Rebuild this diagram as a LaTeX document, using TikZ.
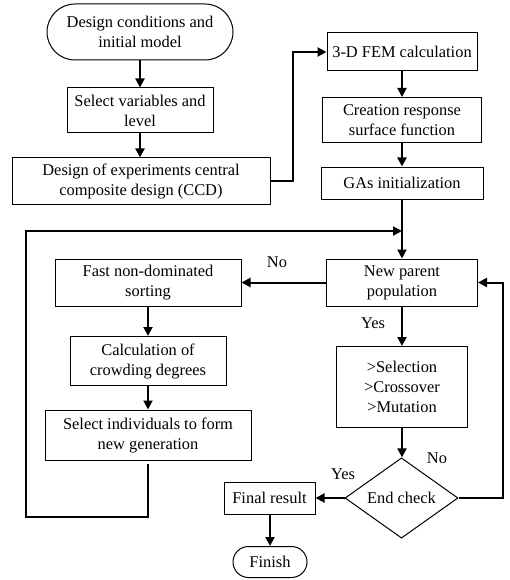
\documentclass[tikz,border=0pt]{standalone}
\usepackage{fontspec}
\setmainfont{Liberation Serif}
\usetikzlibrary{arrows.meta,shapes.geometric}
\begin{document}
\begin{tikzpicture}[x=1pt,y=-1pt,
  every node/.style={font=\fontsize{16.4}{20}\selectfont},
  box/.style={draw, line width=1pt, align=center, inner sep=0pt, minimum width=#1},
  term/.style={draw, line width=1pt, align=center, inner sep=0pt, rounded corners=#1},
  lbl/.style={inner sep=0pt, anchor=center},
  conn/.style={line width=2pt, -{Triangle[length=9pt,width=9pt]}},
  plain/.style={line width=2pt}]
\useasboundingbox (0,0) rectangle (509,580);
% nodes
\node[term=28pt, minimum width=186pt, minimum height=56pt] (start) at (140,32) {Design conditions and\\initial model};
\node[box=146pt, minimum height=45pt] (sel) at (140,110.5) {Select variables and\\level};
\node[box=258pt, minimum height=46pt] (ccd) at (141,181) {Design of experiments central\\composite design (CCD)};
\node[box=150pt, minimum height=38pt] (fem) at (402,52) {3-D FEM calculation};
\node[box=159pt, minimum height=45pt] (crs) at (402,120) {Creation response\\surface function};
\node[box=162pt, minimum height=32pt] (gas) at (402,183) {GAs initialization};
\node[box=151pt, minimum height=47pt] (npp) at (402,282.5) {New parent\\population};
\node[box=186pt, minimum height=47pt] (fast) at (148,282.5) {Fast non-dominated\\sorting};
\node[box=156pt, minimum height=49pt] (calc) at (148,361) {Calculation of\\crowding degrees};
\node[box=206pt, minimum height=50pt] (seli) at (148,435) {Select individuals to form\\new generation};
\node[box=131pt, minimum height=81pt] (ops) at (402,387) {>Selection\\>Crossover\\>Mutation};
\node[draw, line width=1pt, diamond, inner sep=0pt, minimum width=113pt, minimum height=69pt] (endc) at (401.5,498) {End check};
\node[box=91pt, minimum height=32pt] (final) at (269.5,498) {Final result};
\node[term=15.5pt, minimum width=74pt, minimum height=31pt] (finish) at (270,562) {Finish};
% labels
\node[lbl] (no1) at (277,262) {No};
\node[lbl] (yes1) at (373,323) {Yes};
\node[lbl] (no2) at (437,458) {No};
\node[lbl] (yes2) at (343,474) {Yes};
% coordinates
\coordinate (j) at (402,231);
\coordinate (c1) at (293,181);
\coordinate (c2) at (293,52);
\coordinate (l0) at (148,464);
\coordinate (l1) at (148,517);
\coordinate (l2) at (26,517);
\coordinate (l3) at (26,231);
\coordinate (r1) at (503,498);
\coordinate (r2) at (503,282.5);
% connectors
\draw[conn] (start.south -| sel.north) -- (sel.north);
\draw[conn] (sel.south) -- (sel.south |- ccd.north);
\draw[conn] (ccd.east) -- (c1) -- (c2) -- (fem.west);
\draw[conn] (fem) -- (crs);
\draw[conn] (crs) -- (gas);
\draw[conn] (gas.south) -- (npp.north);
\draw[conn] (l0) -- (l1) -- (l2) -- (l3) -- (j);
\draw[conn] (npp.west) -- (fast.east);
\draw[conn] (fast) -- (calc);
\draw[conn] (calc) -- (seli);
\draw[conn] (npp) -- (ops);
\draw[conn] (ops.south) -- (ops.south |- endc.north);
\draw[conn] (endc.east) -- (r1) -- (r2) -- (npp.east);
\draw[conn] (endc.west) -- (final.east);
\draw[conn] (final.south -| finish.north) -- (finish.north);
\end{tikzpicture}
\end{document}
